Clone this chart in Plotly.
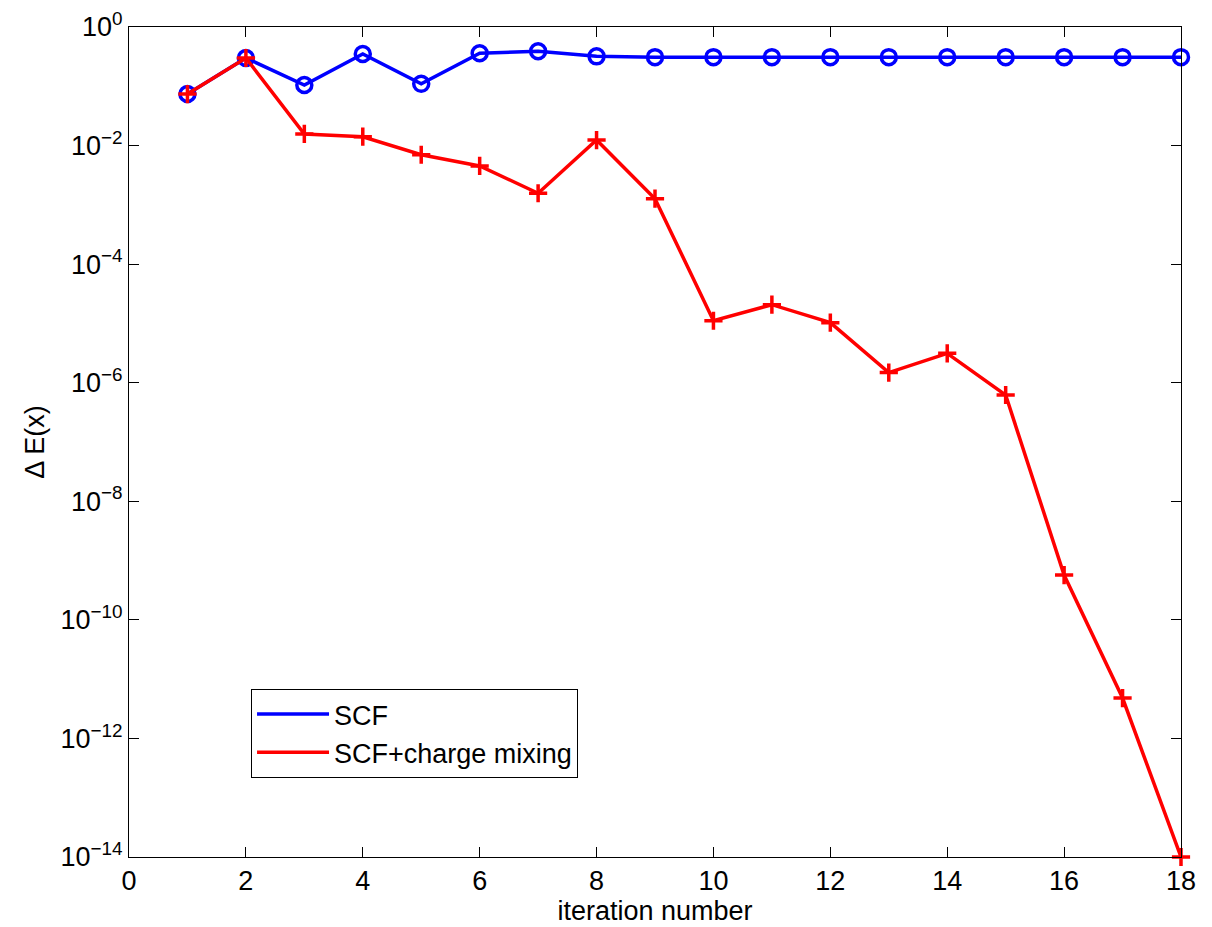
import plotly.graph_objects as go

iterations = list(range(1, 19))
scf = [0.074, 0.30, 0.105, 0.35, 0.11, 0.36, 0.39, 0.32, 0.31, 0.31,
       0.31, 0.31, 0.31, 0.31, 0.31, 0.31, 0.31, 0.31]
scf_mix = [0.074, 0.30, 0.0157, 0.0141, 0.0070, 0.00453, 0.00157, 0.0124, 0.00127,
           1.11e-5, 2.07e-5, 1.03e-5, 1.48e-6, 3.13e-6, 6.2e-7, 5.7e-10, 4.8e-12, 1e-14]
ytick_vals = [1e0, 1e-2, 1e-4, 1e-6, 1e-8, 1e-10, 1e-12, 1e-14]
ytick_text = ["10<sup>0</sup>", "10<sup>−2</sup>", "10<sup>−4</sup>", "10<sup>−6</sup>",
              "10<sup>−8</sup>", "10<sup>−10</sup>", "10<sup>−12</sup>", "10<sup>−14</sup>"]

BLUE = "#0000ff"
RED = "#ff0000"
FONT = "Liberation Sans, Arial, Helvetica, sans-serif"
FS = 27

fig = go.Figure()
fig.add_trace(go.Scatter(
    x=iterations, y=scf, mode="lines+markers", showlegend=False, cliponaxis=False,
    line=dict(color=BLUE, width=3.5),
    marker=dict(symbol="circle-open", size=15, color=BLUE, line=dict(width=3.5, color=BLUE)),
))
fig.add_trace(go.Scatter(
    x=iterations, y=scf_mix, mode="lines+markers", showlegend=False, cliponaxis=False,
    line=dict(color=RED, width=3.5),
    marker=dict(symbol="cross-thin-open", size=13, color=RED, line=dict(width=3.5, color=RED)),
))
fig.add_trace(go.Scatter(x=[None], y=[None], mode="lines", name="SCF",
                         line=dict(color=BLUE, width=3.5)))
fig.add_trace(go.Scatter(x=[None], y=[None], mode="lines", name="SCF+charge mixing",
                         line=dict(color=RED, width=3.5)))

axis_common = dict(showline=True, linecolor="black", linewidth=1, mirror="ticks",
                   ticks="inside", ticklen=10, tickcolor="black", tickwidth=1,
                   showgrid=False, zeroline=False,
                   tickfont=dict(family=FONT, size=FS, color="black"))

fig.update_xaxes(range=[0, 18], tickmode="linear", tick0=0, dtick=2,
                 title=dict(text="iteration number", font=dict(family=FONT, size=FS, color="black"),
                            standoff=0),
                 **axis_common)
fig.update_yaxes(type="log", range=[-14, 0], tickvals=ytick_vals, ticktext=ytick_text,
                 title=dict(text="Δ E(x)", font=dict(family=FONT, size=FS, color="black"),
                            standoff=8),
                 **axis_common)

fig.update_layout(
    width=1212, height=927,
    margin=dict(l=129, r=31, t=27, b=70, autoexpand=False),
    paper_bgcolor="white", plot_bgcolor="white",
    font=dict(family=FONT, size=FS, color="black"),
    legend=dict(x=0.116, y=0.2024, xanchor="left", yanchor="top",
                bordercolor="black", borderwidth=1, bgcolor="white",
                font=dict(family=FONT, size=FS, color="black"),
                itemwidth=72, tracegroupgap=0),
)

fig.write_html("out.html")
